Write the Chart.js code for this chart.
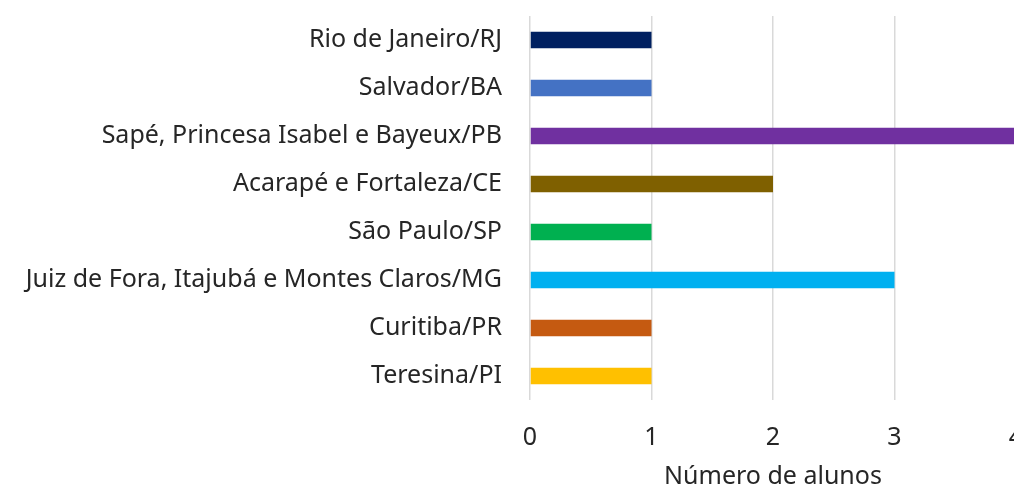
<!DOCTYPE html>
<html>
<head>
<meta charset="utf-8">
<script src="https://cdn.jsdelivr.net/npm/chart.js@4"></script>
<style>
  html, body { margin: 0; padding: 0; background: #fff; overflow: hidden; }
  #wrap { width: 1016px; height: 492px; }
</style>
</head>
<body>
<div id="wrap"><canvas id="myChart" width="1016" height="492"></canvas></div>
<script>
// categories, top to bottom
var cidades = [
  'Rio de Janeiro/RJ',
  'Salvador/BA',
  'Sapé, Princesa Isabel e Bayeux/PB',
  'Acarapé e Fortaleza/CE',
  'São Paulo/SP',
  'Juiz de Fora, Itajubá e Montes Claros/MG',
  'Curitiba/PR',
  'Teresina/PI'
];
var alunos = [1, 1, 4, 2, 1, 3, 1, 1];
var ticksX = [0, 1, 2, 3, 4];
var cores = ['#002060', '#4472c4', '#7030a0', '#7f6000', '#00b050', '#00b0f0', '#c55a11', '#ffc000'];

var fonte = "'Noto Sans', sans-serif";
var ctx = document.getElementById('myChart').getContext('2d');
var chart = new Chart(ctx, {
  type: 'bar',
  data: {
    labels: cidades,
    datasets: [{
      data: alunos,
      backgroundColor: cores,
      borderWidth: 0,
      categoryPercentage: 1,
      barPercentage: 0.34
    }]
  },
  options: {
    indexAxis: 'y',
    responsive: false,
    animation: false,
    layout: { padding: { top: 16, right: 0, left: 0, bottom: 0 } },
    plugins: { legend: { display: false }, tooltip: { enabled: false } },
    scales: {
      x: {
        min: ticksX[0],
        max: ticksX[ticksX.length - 1],
        afterBuildTicks: function (scale) {
          scale.ticks = ticksX.map(function (v) { return { value: v }; });
        },
        grid: { color: '#d9d9d9', lineWidth: 1.5, drawTicks: false },
        border: { display: false },
        ticks: { color: '#262626', padding: 23, font: { family: fonte, size: 25 } },
        title: {
          display: true,
          text: 'Número de alunos',
          color: '#262626',
          padding: 0,
          font: { family: fonte, size: 25 }
        },
        afterFit: function (scale) {
          scale.height = 92;
          scale.paddingLeft = 0;
          scale.paddingRight = 0;
        }
      },
      y: {
        grid: { display: false, drawTicks: false },
        border: { display: false },
        ticks: { color: '#262626', padding: 28, font: { family: fonte, size: 25 } },
        afterFit: function (scale) {
          scale.width = 530;
          scale.paddingTop = 0;
          scale.paddingBottom = 0;
        }
      }
    }
  }
});
</script>
</body>
</html>
